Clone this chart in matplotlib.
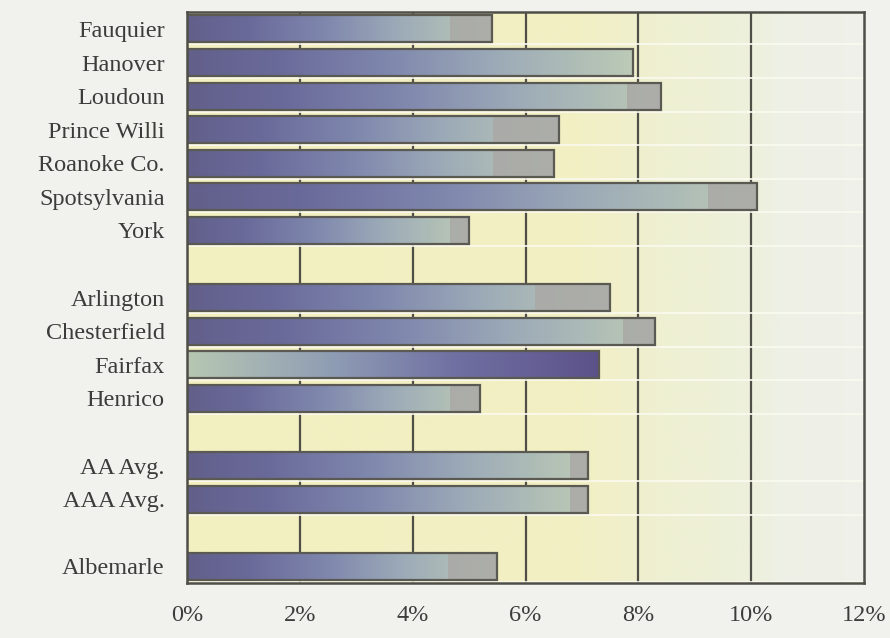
import numpy as np
import matplotlib
matplotlib.use("Agg")
import matplotlib.pyplot as plt
from matplotlib.colors import LinearSegmentedColormap

# Category labels, top to bottom ("" marks a spacer row between groups)
labels = ["Fauquier", "Hanover", "Loudoun", "Prince Willi", "Roanoke Co.",
          "Spotsylvania", "York", "",
          "Arlington", "Chesterfield", "Fairfax", "Henrico", "",
          "AA Avg.", "AAA Avg.", "",
          "Albemarle"]

# Bar values in percent (None for spacer rows)
values = [5.4, 7.9, 8.4, 6.6, 6.5, 10.1, 5.0, None,
          7.5, 8.3, 7.3, 5.2, None,
          7.1, 7.1, None,
          5.5]

# Where the grey end band of each bar begins (None = no band)
shade_start = [4.66, None, 7.8, 5.43, 5.43, 9.24, 4.66, None,
               6.17, 7.73, None, 4.66, None,
               6.79, 6.79, None,
               4.63]

# Bars whose colour ramp runs the other way
reversed_ramp = ["Fairfax"]

xticks = [0, 2, 4, 6, 8, 10, 12]
xtick_labels = ["0%", "2%", "4%", "6%", "8%", "10%", "12%"]

plt.rcParams["font.family"] = ["Liberation Serif", "DejaVu Serif"]

fig = plt.figure(figsize=(8.9, 6.38), dpi=100, facecolor="#f1f1ee")
ax = fig.add_axes([0.210, 0.086, 0.761, 0.895])

n = len(labels)
ymin, ymax = n - 0.5, -0.5
bar_h = 0.8

# plot-area wash: yellow on the left fading to pale grey-green on the right
bg_cmap = LinearSegmentedColormap.from_list(
    "bg", [(0.0, "#f3efc0"), (0.58, "#f2efc4"), (0.70, "#eff0d2"),
           (0.84, "#edf0dc"), (0.88, "#eef0e6"), (1.0, "#eff1ea")])
ax.imshow(np.linspace(0, 1, 256)[None, :], cmap=bg_cmap, aspect="auto",
          extent=[0, 12, ymin, ymax], zorder=0, interpolation="bilinear")

bar_cmap = LinearSegmentedColormap.from_list(
    "bar", [(0.0, "#625f8a"), (0.2, "#6a6a9a"), (0.45, "#7f87ad"),
            (0.7, "#9dabb8"), (1.0, "#bccab6")])
rev_cmap = LinearSegmentedColormap.from_list(
    "rev", [(0.0, "#5c528a"), (0.35, "#7070a2"), (0.65, "#8f9db4"),
            (1.0, "#b7c7b2")])
ramp = np.linspace(0, 1, 256)[None, :]

for i, (lab, v, s) in enumerate(zip(labels, values, shade_start)):
    if v is None:
        continue
    if lab in reversed_ramp:
        img, cm = ramp[:, ::-1], rev_cmap
    else:
        img, cm = ramp, bar_cmap
    ax.imshow(img, cmap=cm, aspect="auto", interpolation="bilinear",
              extent=[0, v, i + bar_h / 2, i - bar_h / 2], zorder=3)
    if s is not None:
        ax.barh(i, v - s, left=s, height=bar_h, color="#aaa9a6",
                alpha=0.85, zorder=4, linewidth=0)
    # thin light strip under each bar
    ax.plot([0, 12], [i + bar_h / 2 + 0.06] * 2, color="#fbfbf0",
            lw=1.2, zorder=2)

# bar outlines
vals_plot = [0 if v is None else v for v in values]
outline = ax.barh(range(n), vals_plot, height=bar_h, facecolor="none",
                  edgecolor="#5a5a52", linewidth=1.6, zorder=5)
for patch, v in zip(outline, values):
    if v is None:
        patch.set_visible(False)

# vertical gridlines
for x in xticks[1:-1]:
    ax.axvline(x, color="#4f4f48", lw=1.6, zorder=1)

ax.set_xlim(0, 12)
ax.set_ylim(ymin, ymax)
ax.set_xticks(xticks)
ax.set_xticklabels(xtick_labels)
ax.set_yticks([i for i, l in enumerate(labels) if l])
ax.set_yticklabels([l for l in labels if l])
ax.tick_params(axis="both", length=0, labelsize=17.5, labelcolor="#3c3c3a")
ax.tick_params(axis="y", pad=16)
ax.tick_params(axis="x", pad=16)
for sp in ax.spines.values():
    sp.set_color("#4f4f48")
    sp.set_linewidth(1.8)
    sp.set_zorder(6)

fig.savefig("out.png", dpi=100, facecolor=fig.get_facecolor())
